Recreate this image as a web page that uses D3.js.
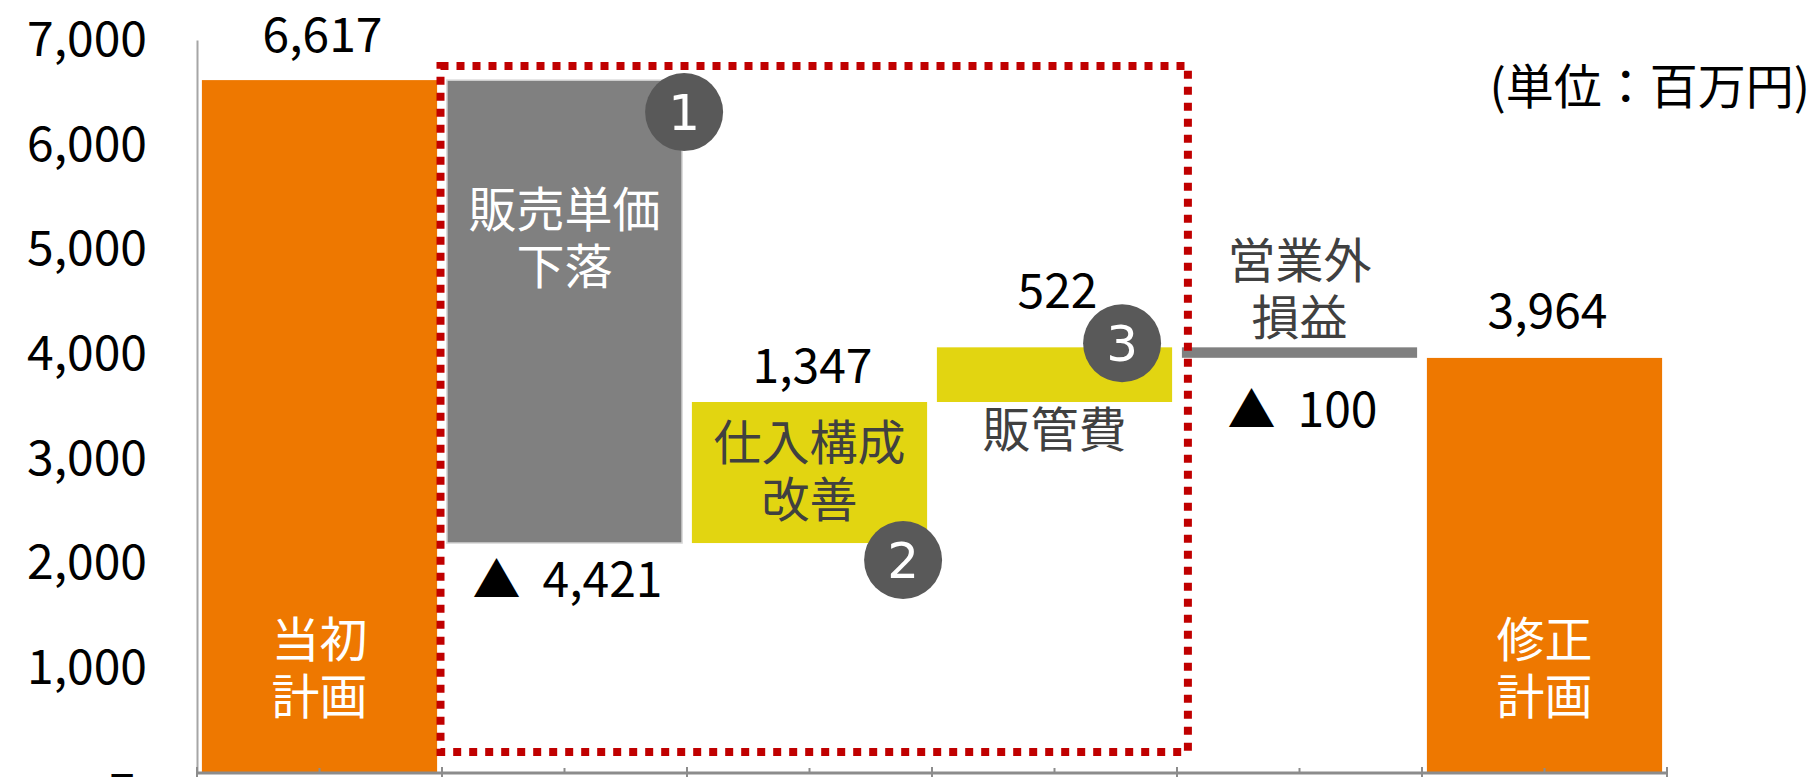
<!DOCTYPE html>
<html>
<head>
<meta charset="utf-8">
<script src="https://cdn.jsdelivr.net/npm/d3@7"></script>
<style>
  body { margin: 0; background: #fff; }
  svg { display: block; font-family: "Noto Sans CJK JP", "Noto Sans", sans-serif; }
</style>
</head>
<body>
<svg id="chart" width="1815" height="777"></svg>
<script>
// Waterfall: 当初計画 -> 修正計画 (単位：百万円)

const categories = ["当初\n計画", "販売単価\n下落", "仕入構成\n改善", "販管費", "営業外\n損益", "修正\n計画"];
const values = [6617, -4421, 1347, 522, -100, 3964];
const kinds = ["total", "delta", "delta", "delta", "delta", "total"];
const valueLabels = ["6,617", "▲ 4,421", "1,347", "522", "▲ 100", "3,964"];
const barColors = ["#EE7800", "#808080", "#E2D511", "#E2D511", "#808080", "#EE7800"];
const yTicks = [0, 1000, 2000, 3000, 4000, 5000, 6000, 7000];
const badges = ["1", "2", "3"];
const badgeSteps = [1, 2, 3];
const unitLabel = "(単位：百万円)";

const svg = d3.select("#chart");

const x = d3.scaleBand().domain(d3.range(categories.length)).range([197, 1667])
  .paddingInner(0.04).paddingOuter(0.02);
const y = d3.scaleLinear().domain([0, 7000]).range([773, 40]);

// running totals for floating bars
let running = 0;
const steps = values.map((v, i) => {
  let lo, hi;
  if (kinds[i] === "total") { lo = 0; hi = v; running = v; }
  else { lo = running; hi = running + v; running += v; }
  return { i, v, lo: Math.min(lo, hi), hi: Math.max(lo, hi) };
});

// y axis
const yAxis = svg.append("g")
  .attr("transform", `translate(${x.range()[0]},0)`)
  .call(d3.axisLeft(y).tickValues(yTicks).tickSize(0).tickSizeOuter(0).tickPadding(50)
    .tickFormat(d => d === 0 ? "–" : d3.format(",")(d)));
yAxis.select(".domain").attr("stroke", "#a6a6a6").attr("stroke-width", 2);
yAxis.selectAll(".tick text")
  .style("font-size", "48px")
  .style("font-family", "'Noto Sans CJK JP', sans-serif")
  .attr("fill", "#000")
  .attr("dx", d => d === 0 ? -12 : 0);

// bars
svg.append("g").selectAll("rect")
  .data(steps)
  .join("rect")
  .attr("x", d => x(d.i))
  .attr("y", d => y(d.hi))
  .attr("width", x.bandwidth())
  .attr("height", d => y(d.lo) - y(d.hi))
  .attr("fill", d => barColors[d.i])
  .attr("stroke", d => d.i === 1 ? "#d9d9d9" : "none")
  .attr("stroke-width", 1.5);

// bottom axis with major ticks between categories, minor ticks at centres
const stepW = x.step();
const edges = d3.range(categories.length + 1).map(k => x.range()[0] + k * stepW);
const bottom = svg.append("g");
bottom.append("line")
  .attr("x1", x.range()[0]).attr("x2", x.range()[1])
  .attr("y1", y(0)).attr("y2", y(0))
  .attr("stroke", "#8c8c8c").attr("stroke-width", 3);
bottom.selectAll("line.major").data(edges).join("line").attr("class", "major")
  .attr("x1", d => d).attr("x2", d => d)
  .attr("y1", y(0) - 6).attr("y2", y(0) + 8)
  .attr("stroke", "#8c8c8c").attr("stroke-width", 2);
bottom.selectAll("line.minor").data(d3.range(categories.length)).join("line").attr("class", "minor")
  .attr("x1", d => x(d) + x.bandwidth() / 2).attr("x2", d => x(d) + x.bandwidth() / 2)
  .attr("y1", y(0) - 5).attr("y2", y(0))
  .attr("stroke", "#8c8c8c").attr("stroke-width", 2);

// category labels
const lineH = 57;
function catBaseline(d) {
  const top = y(d.hi), bot = y(d.lo), n = categories[d.i].split("\n").length;
  if (d.i === 0 || d.i === 5) return y(0) - 116;          // inside, near bottom
  if (d.i === 1) return top + 147;                           // inside, upper part
  if (d.i === 2) return (top + bot) / 2 - 12.5;              // centred
  if (d.i === 3) return bot + 45;                            // below
  return top - 12 - (n - 1) * lineH;                         // above
}
const catColor = i => (i === 0 || i === 1 || i === 5) ? "#fff" : "#404040";

svg.append("g").selectAll("text")
  .data(steps)
  .join("text")
  .attr("text-anchor", "middle")
  .attr("fill", d => catColor(d.i))
  .style("font-size", "48px")
  .each(function(d) {
    const t = d3.select(this);
    const cx = x(d.i) + x.bandwidth() / 2;
    const b = catBaseline(d);
    categories[d.i].split("\n").forEach((line, k) => {
      t.append("tspan").attr("x", cx).attr("y", b + k * lineH).text(line);
    });
  });

// value labels
function valBaseline(d) {
  const top = y(d.hi), bot = y(d.lo);
  switch (d.i) {
    case 0: return top - 28;
    case 1: return bot + 54;
    case 2: return top - 19;
    case 3: return top - 39;
    case 4: return bot + 69;
    default: return top - 30;
  }
}
svg.append("g").selectAll("text")
  .data(steps)
  .join("text")
  .attr("x", d => x(d.i) + x.bandwidth() / 2 + 3)
  .attr("y", d => valBaseline(d))
  .attr("text-anchor", "middle")
  .attr("fill", "#000")
  .style("font-size", "48px")
  .each(function(d) {
    const parts = valueLabels[d.i].split(" ");
    const t = d3.select(this);
    if (parts.length === 1) { t.text(parts[0]); return; }
    t.append("tspan").text(parts[0]);
    t.append("tspan").attr("dx", 22).text(parts[1]);
  });

// dotted highlight box around steps 1-3
const boxL = x(1) - x.step() * x.paddingInner() / 2 - 1.5;
const boxR = x(4) + 6;
const boxT = y(values[0]) - 14;
const boxB = y(0) - 21;
svg.append("rect")
  .attr("x", boxL).attr("y", boxT)
  .attr("width", boxR - boxL).attr("height", boxB - boxT)
  .attr("fill", "none")
  .attr("stroke", "#C00000")
  .attr("stroke-width", 8)
  .attr("stroke-dasharray", "8,8");

// numbered badges
const badgeOffsets = [[2, 32, "top"], [-24, 17, "bottom"], [-50, -4, "top"]];
const bg = svg.append("g").selectAll("g")
  .data(badges)
  .join("g")
  .attr("transform", (b, k) => {
    const d = steps[badgeSteps[k]];
    const [dx, dy, ref] = badgeOffsets[k];
    const bx = x(d.i) + x.bandwidth() + dx;
    const by = (ref === "top" ? y(d.hi) : y(d.lo)) + dy;
    return `translate(${bx},${by})`;
  });
bg.append("circle").attr("r", 39).attr("fill", "#595959");
bg.append("text")
  .attr("text-anchor", "middle")
  .attr("dy", "0.36em")
  .attr("fill", "#fff")
  .style("font-size", "50px")
  .style("font-family", "'DejaVu Sans', sans-serif")
  .text(b => b);

// unit
svg.append("text")
  .attr("x", 1810)
  .attr("y", 104)
  .attr("text-anchor", "end")
  .attr("fill", "#000")
  .style("font-size", "48px")
  .text(unitLabel);
</script>
</body>
</html>
